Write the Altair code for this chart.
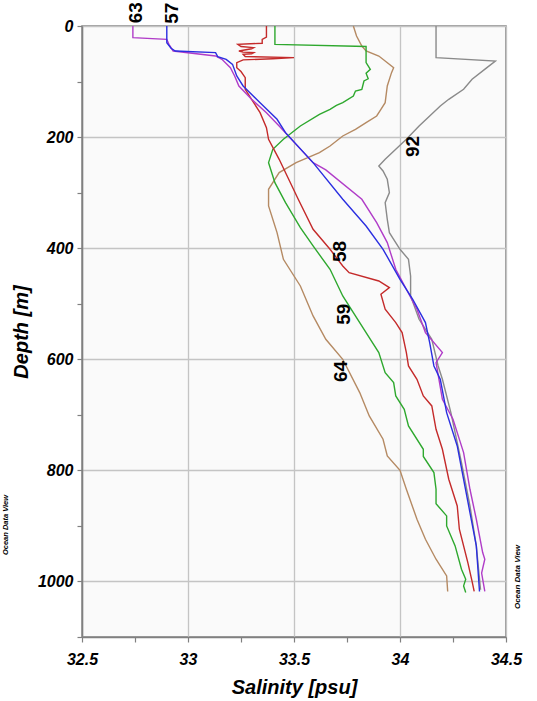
import altair as alt
import pandas as pd

# ---- data (salinity [psu] vs depth [m]) ----
st92_depth = [0, 57, 63, 75, 96, 114, 132, 144, 162, 180, 204, 222, 240, 252, 261, 276, 300, 318, 348, 372,
              402, 420, 450, 486, 528, 564, 612, 636, 696, 786, 864, 936, 1015]
st92_sal = [34.17, 34.17, 34.45, 34.41, 34.34, 34.30, 34.23, 34.19, 34.14, 34.09, 34.03, 33.98, 33.93, 33.90,
            33.92, 33.94, 33.95, 33.93, 33.94, 33.95, 34.00, 34.04, 34.05, 34.05, 34.09, 34.15, 34.18, 34.20,
            34.24, 34.29, 34.33, 34.36, 34.38]

st64_depth = [0, 18, 36, 45, 54, 63, 75, 84, 108, 138, 150, 162, 174, 186, 198, 216, 228, 246, 264, 294,
              324, 372, 420, 468, 522, 564, 600, 660, 702, 744, 774, 800, 834, 888, 924, 960, 990, 1018]
st64_sal = [33.78, 33.795, 33.82, 33.84, 33.90, 33.93, 33.97, 33.96, 33.94, 33.93, 33.91, 33.89, 33.84, 33.79,
            33.73, 33.67, 33.62, 33.51, 33.43, 33.38, 33.38, 33.42, 33.45, 33.53, 33.59, 33.65, 33.73, 33.81,
            33.855, 33.92, 33.94, 34.00, 34.03, 34.08, 34.12, 34.17, 34.22, 34.225]

st59_depth = [0, 33, 37, 39, 66, 78, 85, 95, 99, 114, 117, 126, 138, 143, 150, 159, 180, 204, 222, 246,
              282, 318, 363, 396, 438, 486, 516, 552, 588, 624, 642, 666, 690, 720, 762, 775, 804, 834, 860,
              882, 900, 936, 978, 996, 1008, 1020]
st59_sal = [33.41, 33.41, 33.84, 33.84, 33.84, 33.86, 33.84, 33.85, 33.83, 33.82, 33.79, 33.78, 33.73, 33.70,
            33.67, 33.62, 33.53, 33.45, 33.40, 33.38, 33.41, 33.46, 33.53, 33.59, 33.67, 33.73, 33.78, 33.84,
            33.90, 33.93, 33.97, 33.98, 34.02, 34.04, 34.11, 34.11, 34.16, 34.17, 34.17, 34.22, 34.22, 34.26,
            34.29, 34.31, 34.30, 34.31]

st58_depth = [0, 20, 24, 31, 33, 37, 39, 41, 45, 47, 48, 50, 51, 55, 57, 59, 61, 66, 75, 82, 93, 114, 132,
              156, 183, 204, 240, 312, 366, 402, 432, 444, 459, 471, 483, 510, 534, 552, 588, 612, 636, 666,
              684, 726, 762, 816, 864, 906, 966, 1000, 1018]
st58_sal = [33.37, 33.37, 33.35, 33.35, 33.235, 33.25, 33.31, 33.30, 33.24, 33.26, 33.31, 33.30, 33.26, 33.27,
            33.50, 33.40, 33.26, 33.23, 33.23, 33.25, 33.27, 33.27, 33.30, 33.34, 33.37, 33.38, 33.43, 33.52,
            33.59, 33.67, 33.73, 33.76, 33.90, 33.95, 33.91, 33.93, 33.98, 34.01, 34.03, 34.04, 34.08, 34.11,
            34.15, 34.17, 34.20, 34.23, 34.27, 34.28, 34.32, 34.34, 34.35]

st63_depth = [0, 21, 24, 33, 45, 54, 60, 75, 90, 108, 132, 156, 180, 205, 246, 259, 312, 354, 390, 438, 474,
              510, 552, 588, 606, 672, 708, 768, 834, 888, 948, 960, 985, 1018]
st63_sal = [32.74, 32.74, 32.90, 32.91, 32.93, 33.13, 33.16, 33.20, 33.22, 33.24, 33.30, 33.37, 33.43, 33.49,
            33.59, 33.65, 33.82, 33.89, 33.94, 33.98, 34.03, 34.08, 34.12, 34.20, 34.17, 34.20, 34.25, 34.30,
            34.33, 34.36, 34.39, 34.40, 34.385, 34.40]

st57_depth = [0, 30, 40, 45, 48, 55, 60, 69, 90, 108, 138, 168, 192, 246, 312, 360, 402, 456, 492, 534, 570,
              612, 636, 696, 756, 816, 876, 936, 1018]
st57_sal = [32.90, 32.90, 32.92, 32.94, 33.13, 33.14, 33.18, 33.21, 33.23, 33.26, 33.34, 33.42, 33.46, 33.59,
            33.73, 33.84, 33.92, 34.00, 34.06, 34.12, 34.14, 34.16, 34.19, 34.22, 34.27, 34.30, 34.33, 34.36,
            34.375]

stations = ["92", "64", "59", "58", "63", "57"]
station_colors = ["#8a8a8a", "#b58a63", "#2ea82e", "#c42a2a", "#b03cc8", "#2a2ee0"]
profiles = {
    "92": (st92_sal, st92_depth),
    "64": (st64_sal, st64_depth),
    "59": (st59_sal, st59_depth),
    "58": (st58_sal, st58_depth),
    "63": (st63_sal, st63_depth),
    "57": (st57_sal, st57_depth),
}

# station label anchors (salinity, depth)
label_text = ["63", "57", "92", "58", "59", "64"]
label_sal = [32.757, 32.925, 34.06, 33.715, 33.738, 33.724]
label_depth = [-24, -23, 217, 406, 519, 622]

x_ticks = [32.5, 32.75, 33.0, 33.25, 33.5, 33.75, 34.0, 34.25, 34.5]
y_ticks = [0, 100, 200, 300, 400, 500, 600, 700, 800, 900, 1000, 1100]

rows = []
for s in stations:
    sal, dep = profiles[s]
    for i, (a, d) in enumerate(zip(sal, dep)):
        rows.append({"station": s, "sal": a, "depth": d, "i": i})
df = pd.DataFrame(rows)
labels_df = pd.DataFrame({"text": label_text, "sal": label_sal, "depth": label_depth})

FONT = "Liberation Sans"

x_scale = alt.Scale(domain=[32.5, 34.5], nice=False, zero=False)
y_scale = alt.Scale(domain=[0, 1100], reverse=True, nice=False, zero=False)

x_axis = alt.Axis(
    values=x_ticks, format=".2~f", title="Salinity [psu]",
    labelExpr="abs(datum.value*2 - round(datum.value*2)) < 0.001 ? datum.label : ''",
    gridOpacity={"condition": {"test": "abs(datum.value*2 - round(datum.value*2)) < 0.001", "value": 1}, "value": 0},
    labelFlush=False, labelOverlap=False, labelPadding=9, titlePadding=10,
)
y_axis = alt.Axis(
    values=y_ticks, format="d", title="Depth [m]",
    labelExpr="datum.value % 200 === 0 ? datum.label : ''",
    gridOpacity={"condition": {"test": "datum.value % 200 === 0", "value": 1}, "value": 0},
    labelFlush=False, labelOverlap=False, labelPadding=4, titlePadding=6,
)

lines = alt.Chart(df).mark_line(strokeWidth=1.4, clip=False).encode(
    x=alt.X("sal:Q", scale=x_scale, axis=x_axis),
    y=alt.Y("depth:Q", scale=y_scale, axis=y_axis),
    color=alt.Color("station:N", scale=alt.Scale(domain=stations, range=station_colors), legend=None),
    order=alt.Order("i:Q"),
    detail="station:N",
)

labels = alt.Chart(labels_df).mark_text(
    angle=270, font=FONT, fontSize=19, fontWeight="bold", color="black",
    align="center", baseline="middle",
).encode(
    x=alt.X("sal:Q", scale=x_scale),
    y=alt.Y("depth:Q", scale=y_scale),
    text="text:N",
)

wm_left = alt.Chart(pd.DataFrame({"t": ["Ocean Data View"]})).mark_text(
    angle=270, font=FONT, fontSize=7.5, fontWeight="bold", fontStyle="italic", color="black",
    align="center", baseline="middle",
).encode(x=alt.value(-76), y=alt.value(499), text="t:N")

wm_right = alt.Chart(pd.DataFrame({"t": ["Ocean Data View"]})).mark_text(
    angle=270, font=FONT, fontSize=8, fontWeight="bold", fontStyle="italic", color="black",
    align="center", baseline="middle",
).encode(x=alt.value(436), y=alt.value(551), text="t:N")

chart = alt.layer(lines, labels, wm_left, wm_right).properties(
    width=424, height=611,
    autosize=alt.AutoSizeParams(type="none"),
    padding={"left": 82, "top": 26, "right": 31, "bottom": 64},
    background="white",
).configure_view(
    fill="#fafafa", stroke="#808080", strokeWidth=1.5,
).configure_axis(
    labelFont=FONT, labelFontSize=16, labelFontWeight="bold", labelFontStyle="italic", labelColor="black",
    titleFont=FONT, titleFontSize=20, titleFontWeight="bold", titleFontStyle="italic", titleColor="black",
    domainColor="#808080", domainWidth=1.5, tickColor="#808080", tickSize=5, tickWidth=1.2,
    gridColor="#c4c4c4", gridWidth=1.3,
)

chart.save("out.html", embed_options={"renderer": "svg", "actions": False})
